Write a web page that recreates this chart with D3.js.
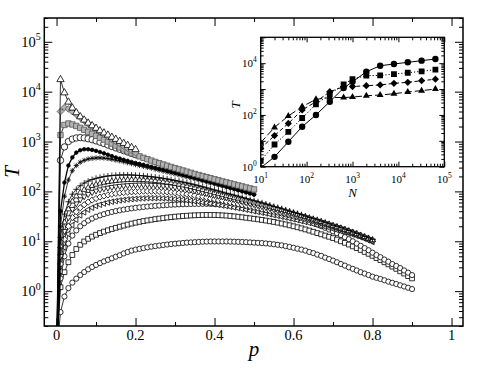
<!DOCTYPE html>
<html>
<head>
<meta charset="utf-8">
<script src="https://cdnjs.cloudflare.com/ajax/libs/d3/7.8.5/d3.min.js"></script>
<style>
  body { margin: 0; background: #fff; }
  svg text { font-family: "Liberation Serif", "DejaVu Serif", serif; fill: #000; }
  .domain { display: none; }
</style>
</head>
<body>
<div id="chart"></div>
<script>
// p values shared by every curve of the main panel
var pGrid = [0, 0.01, 0.02, 0.03, 0.04, 0.05, 0.06, 0.07, 0.08, 0.09, 0.1,
  0.11, 0.12, 0.13, 0.14, 0.15, 0.16, 0.17, 0.18, 0.19, 0.2,
  0.21, 0.22, 0.23, 0.24, 0.25, 0.26, 0.27, 0.28, 0.29, 0.3,
  0.31, 0.32, 0.33, 0.34, 0.35, 0.36, 0.37, 0.38, 0.39, 0.4,
  0.41, 0.42, 0.43, 0.44, 0.45, 0.46, 0.47, 0.48, 0.49, 0.5,
  0.51, 0.52, 0.53, 0.54, 0.55, 0.56, 0.57, 0.58, 0.59, 0.6,
  0.61, 0.62, 0.63, 0.64, 0.65, 0.66, 0.67, 0.68, 0.69, 0.7,
  0.71, 0.72, 0.73, 0.74, 0.75, 0.76, 0.77, 0.78, 0.79, 0.8,
  0.81, 0.82, 0.83, 0.84, 0.85, 0.86, 0.87, 0.88, 0.89, 0.9];

// T(p) curves, first value is p = 0 (below the axis)
var tTriBig = [0.05, 17500, 9500, 6200, 4700, 3800, 3150, 2700, 2350, 2080, 1850,
  1650, 1490, 1350, 1220, 1110, 1010, 920, 840, 760, 690];
var tDiaGrey = [0.05, 4000, 4800, 4500, 4000, 3500, 3050, 2650, 2300, 2020, 1780,
  1580, 1400, 1250, 1120, 1000, 900, 810, 730, 660, 600];
var tCircBig = [0.05, 420, 780, 1000, 1120, 1180, 1200, 1180, 1140, 1090, 1030,
  970, 910, 850, 795, 745, 700, 655, 615, 580, 545];
var tSqGrey = [0.05, 1350, 2150, 2300, 2200, 2050, 1880, 1720, 1570, 1430, 1300,
  1190, 1090, 995, 910, 830, 760, 695, 635, 580, 540,
  505, 472, 442, 415, 390, 367, 346, 327, 309, 292,
  277, 262, 249, 236, 224, 213, 203, 193, 184, 175,
  167, 159, 152, 145, 138, 132, 126, 120, 115, 110];
var tDotBlack = [0.05, 40, 150, 330, 480, 600, 670, 700, 700, 680, 650,
  615, 580, 545, 510, 480, 455, 430, 410, 390, 372,
  356, 341, 326, 312, 298, 285, 272, 260, 248, 237,
  226, 215, 205, 195, 186, 177, 168, 160, 152, 145,
  138, 131, 124, 118, 112, 106, 101, 96, 91, 86];
var tStar = [0.05, 20, 80, 170, 260, 330, 385, 420, 445, 460, 468,
  470, 465, 455, 440, 425, 410, 393, 376, 360, 345,
  331, 317, 304, 291, 279, 267, 256, 245, 234, 224,
  214, 204, 195, 186, 178, 170, 162, 154, 147, 140,
  133, 127, 121, 115, 110, 105, 100, 96, 92, 88];
var tPlus = [0.05, 12, 35, 62, 88, 110, 130, 147, 161, 173, 183,
  191, 198, 204, 208, 211, 213, 214, 214, 213, 211,
  208, 205, 201, 197, 193, 188, 183, 178, 172, 166,
  160, 154, 148, 142, 136, 130, 124, 118, 112, 107,
  102, 97, 92, 88, 84, 80, 76, 72, 68, 65,
  62, 59, 56, 53, 50, 47.5, 45, 42.5, 40, 38,
  36, 34, 32, 30, 28.5, 27, 25.5, 24, 22.5, 21,
  20, 18.8, 17.6, 16.5, 15.4, 14.4, 13.4, 12.5, 11.7, 10.9];
var tTriUp = [0.05, 8, 24, 44, 63, 80, 95, 108, 119, 129, 137,
  144, 150, 155, 159, 163, 166, 168, 170, 171, 171,
  171, 170, 168, 166, 163, 160, 156, 152, 148, 143,
  138, 133, 128, 123, 118, 113, 108, 103, 99, 94,
  90, 86, 82, 78, 75, 72, 69, 66, 63, 60,
  57, 54.5, 52, 49.5, 47, 45, 42.5, 40.5, 38.5, 36.5,
  34.5, 32.5, 31, 29, 27.5, 26, 24.5, 23, 21.8, 20.5,
  19.3, 18.2, 17.1, 16, 15, 14, 13.1, 12.2, 11.4, 10.6];
var tTriDown = [0.05, 5, 16, 30, 44, 57, 69, 79, 88, 96, 103,
  109, 114, 118, 122, 125, 128, 130, 132, 134, 135,
  136, 136, 136, 135, 134, 132, 130, 128, 125, 122,
  119, 116, 112, 108, 104, 100, 96, 92, 88, 84,
  81, 78, 75, 72, 69, 66, 63, 60, 57.5, 55,
  52.5, 50, 48, 46, 44, 42, 40, 38, 36.5, 35,
  33, 31.5, 30, 28.5, 27, 25.5, 24, 22.8, 21.5, 20.3,
  19.1, 18, 16.9, 15.8, 14.8, 13.8, 12.9, 12, 11.1, 10.3];
var tDiamond = [0.05, 3.5, 11, 20, 30, 39, 47, 54, 61, 67, 72,
  77, 81, 85, 88, 91, 93, 95, 97, 98, 99,
  100, 101, 101, 101, 101, 100, 99, 98, 96, 94,
  92, 90, 88, 86, 83, 80, 78, 75, 72, 70,
  67, 65, 62, 60, 58, 56, 54, 52, 50, 48,
  46, 44, 42.5, 41, 39.5, 38, 36.5, 35, 33.5, 32,
  30.7, 29.4, 28.1, 26.8, 25.5, 24.3, 23.1, 22, 20.9, 19.8,
  18.8, 17.7, 16.7, 15.7, 14.7, 13.8, 12.8, 11.9, 11, 10.1];
var tTriLeft = [0.05, 2.5, 7.5, 14, 21, 27, 33, 38, 43, 47, 51,
  54, 57, 60, 62, 64, 66, 67.5, 69, 70, 71,
  72, 72.5, 73, 73, 73, 73, 72.5, 72, 71, 70,
  69, 68, 66.5, 65, 63.5, 62, 60, 58.5, 57, 55,
  53.5, 52, 50.5, 49, 47.5, 46, 44.5, 43, 41.5, 40,
  38.7, 37.4, 36.1, 34.8, 33.5, 32.3, 31.1, 29.9, 28.7, 27.5,
  26.4, 25.3, 24.3, 23.3, 22.3, 21.3, 20.4, 19.5, 18.6, 17.7,
  16.8, 16, 15.2, 14.4, 13.6, 12.8, 12, 11.2, 10.4, 9.7];
var tCircMid = [0.05, 1.8, 5, 9, 13, 16.5, 20, 23, 26, 28.5, 31,
  33, 35, 37, 38.7, 40.3, 41.8, 43.2, 44.5, 45.7, 46.8,
  47.8, 48.8, 49.7, 50.5, 51.3, 52, 52.7, 53.3, 53.9, 54.4,
  54.9, 55.3, 55.6, 55.9, 56.1, 56.2, 56.3, 56.3, 56.2, 56,
  55.7, 55.3, 54.8, 54.2, 53.5, 52.7, 51.8, 50.8, 49.7, 48.5,
  47.2, 45.8, 44.3, 42.7, 41, 39.3, 37.5, 35.7, 33.9, 32.1,
  30.3, 28.5, 26.7, 25, 23.3, 21.7, 20.1, 18.6, 17.2, 15.8,
  14.5, 13.3, 12.1, 11, 10, 9, 8.1, 7.3, 6.6, 5.9,
  5.3, 4.8, 4.3, 3.9, 3.5, 3.2, 2.9, 2.6, 2.35, 2.1];
var tSquare = [0.05, 1.2, 2.4, 3.8, 5.3, 7, 8.5, 9.9, 11.2, 12.4, 13.5,
  14.6, 15.6, 16.6, 17.6, 18.6, 19.6, 20.6, 21.6, 22.6, 23.6,
  24.5, 25.4, 26.2, 27, 27.8, 28.5, 29.2, 29.9, 30.5, 31.1,
  31.6, 32.1, 32.5, 32.9, 33.2, 33.4, 33.6, 33.7, 33.7, 33.6,
  33.4, 33.1, 32.7, 32.2, 31.6, 31, 30.3, 29.6, 28.9, 28.2,
  27.5, 26.8, 26, 25.2, 24.4, 23.6, 22.7, 21.8, 20.9, 20,
  19.1, 18.2, 17.3, 16.4, 15.5, 14.6, 13.8, 13, 12.3, 11.6,
  10.8, 10, 9.3, 8.6, 7.9, 7.3, 6.7, 6.1, 5.6, 5.1,
  4.6, 4.2, 3.8, 3.45, 3.1, 2.8, 2.5, 2.25, 2, 1.8];
var tCircLow = [0.05, 0.38, 0.78, 1.15, 1.48, 1.78, 2.1, 2.42, 2.74, 3.05, 3.35,
  3.65, 3.95, 4.25, 4.55, 4.9, 5.25, 5.7, 6.1, 6.5, 6.8,
  7.05, 7.3, 7.55, 7.8, 8, 8.2, 8.4, 8.6, 8.8, 8.95,
  9.1, 9.25, 9.4, 9.5, 9.6, 9.7, 9.8, 9.85, 9.9, 9.9,
  9.9, 9.9, 9.9, 9.85, 9.8, 9.75, 9.7, 9.6, 9.5, 9.4,
  9.3, 9.2, 9.05, 8.9, 8.7, 8.5, 8.3, 8, 7.7, 7.4,
  7.1, 6.8, 6.5, 6.1, 5.8, 5.4, 5.1, 4.7, 4.4, 4.1,
  3.8, 3.5, 3.25, 3, 2.8, 2.6, 2.4, 2.25, 2.1, 1.95,
  1.85, 1.75, 1.65, 1.55, 1.47, 1.39, 1.31, 1.24, 1.17, 1.1];

// inset: T against N
var nValues = [10, 20, 40, 80, 160, 320, 640, 1000, 2000, 4000, 8000, 16000, 32000, 64000];
var insetCirc = [0.9, 2.4, 9.2, 35, 100, 324, 1100, 1900, 4660, 7960, 9300, 10800, 12500, 14500];
var insetSq = [1.7, 7.2, 22, 76, 257, 630, 1510, 2440, 3300, 3350, 3800, 4270, 4860, 5600];
var insetDia = [5.1, 16, 47, 155, 324, 790, 1230, 1250, 1350, 1440, 1660, 1820, 2100, 2400];
var insetTri = [8.5, 33, 91, 210, 400, 470, 470, 490, 550, 590, 660, 770, 870, 1000];

var xTickMajor = [0, 0.2, 0.4, 0.6, 0.8, 1];
var xTickMinor = [0.1, 0.3, 0.5, 0.7, 0.9];
var yLabelPowers = [0, 1, 2, 3, 4, 5];
var insetXPowers = [1, 2, 3, 4, 5];
var insetYPowers = [0, 2, 4];

var svgWidth = 480, svgHeight = 371;
var plot = {left: 44.3, top: 18, right: 463, bottom: 326};
var inset = {left: 260.7, top: 37.3, right: 444.3, bottom: 166.7};
var serif = "'Liberation Serif', 'DejaVu Serif', serif";

var svg = d3.select("#chart").append("svg")
  .attr("width", svgWidth)
  .attr("height", svgHeight)
  .attr("font-family", serif);

// marker outlines centred on 0,0
function markerPath(shape, r) {
  var h = r * 0.866;
  switch (shape) {
    case "circle": return `M${r},0A${r},${r} 0 1,1 ${-r},0A${r},${r} 0 1,1 ${r},0Z`;
    case "square": return `M${-r},${-r}h${2 * r}v${2 * r}h${-2 * r}Z`;
    case "diamond": return `M0,${-r}L${r},0L0,${r}L${-r},0Z`;
    case "triUp": return `M0,${-r}L${h},${r / 2}L${-h},${r / 2}Z`;
    case "triDown": return `M0,${r}L${h},${-r / 2}L${-h},${-r / 2}Z`;
    case "triLeft": return `M${-r},0L${r / 2},${-h}L${r / 2},${h}Z`;
    case "plus": return `M${-r},0H${r}M0,${-r}V${r}`;
    case "star": return `M${-r},0H${r}M0,${-r}V${r}M${-h * 0.8},${-h * 0.8}L${h * 0.8},${h * 0.8}M${-h * 0.8},${h * 0.8}L${h * 0.8},${-h * 0.8}`;
  }
}

function addText(x, y, str, size, italic) {
  return svg.append("text")
    .attr("x", x).attr("y", y)
    .attr("font-family", serif)
    .style("font-size", size + "px")
    .style("font-style", italic ? "italic" : "normal")
    .text(str);
}

// ---------- main panel ----------
var xScale = d3.scaleLinear().domain([-0.031, 1.029]).range([plot.left, plot.right]);
var yScale = d3.scaleLog().domain([0.2, 3e5]).range([plot.bottom, plot.top]);

svg.append("clipPath").attr("id", "mainClip")
  .append("rect")
  .attr("x", plot.left).attr("y", plot.top)
  .attr("width", plot.right - plot.left).attr("height", plot.bottom - plot.top);

var mainSeries = [
  {vals: tCircLow, shape: "circle", r: 2.6, fill: "#fff"},
  {vals: tSquare, shape: "square", r: 2.4, fill: "#fff"},
  {vals: tCircMid, shape: "circle", r: 2.6, fill: "#fff"},
  {vals: tTriLeft, shape: "triLeft", r: 3.2, fill: "#fff"},
  {vals: tDiamond, shape: "diamond", r: 3.1, fill: "#fff"},
  {vals: tTriDown, shape: "triDown", r: 3.3, fill: "#fff"},
  {vals: tTriUp, shape: "triUp", r: 3.3, fill: "#fff"},
  {vals: tPlus, shape: "plus", r: 3, fill: "none"},
  {vals: tStar, shape: "star", r: 2.6, fill: "none"},
  {vals: tDotBlack, shape: "circle", r: 1.8, fill: "#000", lineWidth: 1.3},
  {vals: tCircBig, shape: "circle", r: 3.2, fill: "#fff"},
  {vals: tSqGrey, shape: "square", r: 2.7, fill: "#b4b4b4", stroke: "#555"},
  {vals: tDiaGrey, shape: "diamond", r: 3.4, fill: "#b4b4b4", stroke: "#555"},
  {vals: tTriBig, shape: "triUp", r: 4.2, fill: "#fff"}
];

var mainGroup = svg.append("g").attr("clip-path", "url(#mainClip)");

var line = d3.line()
  .x(d => xScale(d.p))
  .y(d => yScale(d.t));

mainSeries.forEach(s => {
  var pts = s.vals.map((t, i) => ({p: pGrid[i], t: t}));
  var g = mainGroup.append("g");
  g.append("path")
    .datum(pts)
    .attr("d", line)
    .attr("fill", "none")
    .attr("stroke", "#000")
    .attr("stroke-width", s.lineWidth || 0.8);
  g.selectAll("path.mk")
    .data(pts.filter(d => d.t >= 0.2))
    .enter()
    .append("path")
    .attr("class", "mk")
    .attr("transform", d => `translate(${xScale(d.p)},${yScale(d.t)})`)
    .attr("d", markerPath(s.shape, s.r))
    .attr("fill", s.fill)
    .attr("stroke", s.stroke || "#000")
    .attr("stroke-width", 0.8);
});

// ticks, all pointing inwards
var yMinor = yScale.ticks().filter(v => Math.abs(Math.log10(v) - Math.round(Math.log10(v))) > 1e-6);
var yMajor = yLabelPowers.map(k => Math.pow(10, k));

function tickAxis(axisFn, scale, values, size, pos, horizontal) {
  svg.append("g")
    .attr("transform", horizontal ? `translate(0,${pos})` : `translate(${pos},0)`)
    .call(axisFn(scale).tickValues(values).tickSize(-size).tickFormat(""))
    .selectAll("line").attr("stroke-width", 1);
}
tickAxis(d3.axisBottom, xScale, xTickMajor, 8, plot.bottom, true);
tickAxis(d3.axisBottom, xScale, xTickMinor, 4, plot.bottom, true);
tickAxis(d3.axisTop, xScale, xTickMajor, 8, plot.top, true);
tickAxis(d3.axisTop, xScale, xTickMinor, 4, plot.top, true);
tickAxis(d3.axisLeft, yScale, yMajor, 8, plot.left, false);
tickAxis(d3.axisLeft, yScale, yMinor, 4, plot.left, false);
tickAxis(d3.axisRight, yScale, yMajor, 8, plot.right, false);
tickAxis(d3.axisRight, yScale, yMinor, 4, plot.right, false);

svg.append("rect")
  .attr("x", plot.left).attr("y", plot.top)
  .attr("width", plot.right - plot.left).attr("height", plot.bottom - plot.top)
  .attr("fill", "none").attr("stroke", "#000").attr("stroke-width", 1.5);

// tick labels
xTickMajor.forEach(v => {
  addText(xScale(v), plot.bottom + 14, d3.format("")(v), 14.5, false)
    .attr("text-anchor", "middle");
});

yLabelPowers.forEach(k => {
  var t = addText(plot.left - 3.5, yScale(Math.pow(10, k)) + 5, "10", 14.5, false)
    .attr("text-anchor", "end");
  t.append("tspan").attr("dy", -6.5).style("font-size", "10px").text(k);
});

addText(0, 0, "T", 21, true)
  .attr("transform", "translate(19,172) rotate(-90)")
  .attr("text-anchor", "middle");

addText(xScale(0.5), 356, "p", 21, true)
  .attr("text-anchor", "middle");

// ---------- inset ----------
var xIn = d3.scaleLog().domain([10, 1e5]).range([inset.left, inset.right]);
var yIn = d3.scaleLog().domain([1, 1e5]).range([inset.bottom, inset.top]);

svg.append("rect")
  .attr("x", inset.left).attr("y", inset.top)
  .attr("width", inset.right - inset.left).attr("height", inset.bottom - inset.top)
  .attr("fill", "#fff");

svg.append("clipPath").attr("id", "insetClip")
  .append("rect")
  .attr("x", inset.left).attr("y", inset.top)
  .attr("width", inset.right - inset.left).attr("height", inset.bottom - inset.top);

var insetSeries = [
  {vals: insetTri, shape: "triUp", r: 4, dash: "7,3"},
  {vals: insetDia, shape: "diamond", r: 3.6, dash: "4,2.5"},
  {vals: insetSq, shape: "square", r: 2.9, dash: "1.2,2"},
  {vals: insetCirc, shape: "circle", r: 3.2, dash: null}
];

var inGroup = svg.append("g").attr("clip-path", "url(#insetClip)");
var inLine = d3.line().x(d => xIn(d.n)).y(d => yIn(d.t));

insetSeries.forEach(s => {
  var pts = s.vals.map((t, i) => ({n: nValues[i], t: t}));
  inGroup.append("path")
    .datum(pts)
    .attr("d", inLine)
    .attr("fill", "none")
    .attr("stroke", "#000")
    .attr("stroke-width", 1)
    .attr("stroke-dasharray", s.dash);
  inGroup.selectAll(null)
    .data(pts)
    .enter()
    .append("path")
    .attr("transform", d => `translate(${xIn(d.n)},${yIn(d.t)})`)
    .attr("d", markerPath(s.shape, s.r))
    .attr("fill", "#000");
});

var xInMajor = insetXPowers.map(k => Math.pow(10, k));
var xInMinor = xIn.ticks().filter(v => Math.abs(Math.log10(v) - Math.round(Math.log10(v))) > 1e-6);
var yInMajor = [1, 10, 100, 1000, 10000, 100000];
var yInMinor = yIn.ticks().filter(v => Math.abs(Math.log10(v) - Math.round(Math.log10(v))) > 1e-6);

tickAxis(d3.axisBottom, xIn, xInMajor, 5, inset.bottom, true);
tickAxis(d3.axisBottom, xIn, xInMinor, 3, inset.bottom, true);
tickAxis(d3.axisTop, xIn, xInMajor, 5, inset.top, true);
tickAxis(d3.axisTop, xIn, xInMinor, 3, inset.top, true);
tickAxis(d3.axisLeft, yIn, yInMajor, 5, inset.left, false);
tickAxis(d3.axisLeft, yIn, yInMinor, 3, inset.left, false);
tickAxis(d3.axisRight, yIn, yInMajor, 5, inset.right, false);
tickAxis(d3.axisRight, yIn, yInMinor, 3, inset.right, false);

svg.append("rect")
  .attr("x", inset.left).attr("y", inset.top)
  .attr("width", inset.right - inset.left).attr("height", inset.bottom - inset.top)
  .attr("fill", "none").attr("stroke", "#000").attr("stroke-width", 1.3);

insetXPowers.forEach(k => {
  var t = addText(xIn(Math.pow(10, k)), inset.bottom + 16, "10", 11, false)
    .attr("text-anchor", "middle");
  t.append("tspan").attr("dy", -5).style("font-size", "7.5px").text(k);
});

insetYPowers.forEach(k => {
  var t = addText(inset.left - 4, yIn(Math.pow(10, k)) + 4, "10", 11, false)
    .attr("text-anchor", "end");
  t.append("tspan").attr("dy", -5).style("font-size", "7.5px").text(k);
});

addText(0, 0, "T", 13, true)
  .attr("transform", "translate(240,105) rotate(-90)")
  .attr("text-anchor", "middle");

addText(xIn(1000), 197, "N", 13, true)
  .attr("text-anchor", "middle");
</script>
</body>
</html>
